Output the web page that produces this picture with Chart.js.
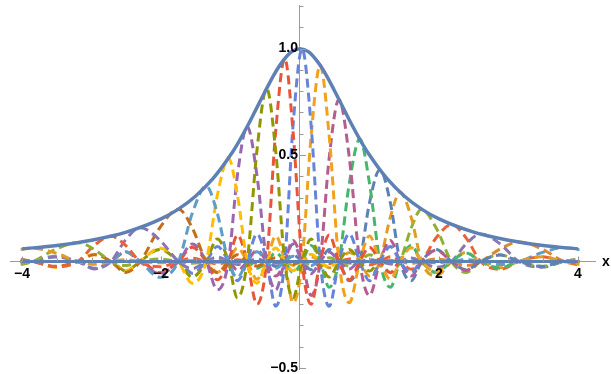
<!DOCTYPE html>
<html>
<head>
<meta charset="utf-8">
<script src="https://cdn.jsdelivr.net/npm/chart.js@4.4.1/dist/chart.umd.min.js"></script>
<style>
  html, body { margin: 0; padding: 0; background: #fff; }
  #wrap { width: 611px; height: 374px; position: relative; }
</style>
</head>
<body>
<div id="wrap"><canvas id="plot"></canvas></div>
<script>
// ============================================================
// Envelope curve + dashed lobes sampled along it (Mathematica look)
// ============================================================

// Solid envelope
const envX = [-4, -3.5, -3, -2.5, -2, -1.75, -1.5, -1.25, -1, -0.875, -0.75, -0.625, -0.5, -0.375, -0.25, -0.125, 0,
              0.125, 0.25, 0.375, 0.5, 0.625, 0.75, 0.875, 1, 1.25, 1.5, 1.75, 2, 2.5, 3, 3.5, 4];
const envY = [0.059, 0.075, 0.10, 0.138, 0.20, 0.246, 0.308, 0.39, 0.50, 0.566, 0.64, 0.72, 0.80, 0.877, 0.94, 0.985, 1.0,
              0.985, 0.94, 0.877, 0.80, 0.72, 0.64, 0.566, 0.50, 0.39, 0.308, 0.246, 0.20, 0.138, 0.10, 0.075, 0.059];

// Lobe lanes: peak positions (even slots) and the half-way spots between them (odd slots)
const laneX = [-4.6, -4.22, -3.85, -3.52, -3.2, -2.96, -2.72, -2.51, -2.3, -2.02, -1.75, -1.55, -1.35, -1.19,
               -1.03, -0.9, -0.76, -0.62, -0.48, -0.35, -0.22, -0.1, 0.03, 0.16, 0.29, 0.42, 0.56, 0.71, 0.86,
               1.0, 1.15, 1.3, 1.44, 1.6, 1.75, 1.96, 2.18, 2.39, 2.6, 2.88, 3.15, 3.48, 3.8, 4.2, 4.6];

// Peak height of each dashed lobe (one per peak slot 2..42)
const peakY = [0.063, 0.089, 0.119, 0.159, 0.246, 0.354, 0.485, 0.634, 0.813, 0.954, 0.999,
               0.922, 0.761, 0.575, 0.431, 0.325, 0.246, 0.174, 0.129, 0.092, 0.065];

// Lobe shape relative to its peak, per lane step away from the peak
const lobe = [1, 0.64, 0, -0.21, 0, 0.13, 0, -0.09, 0, 0.07, 0, -0.055, 0];

const dashColors = ['#E19C24', '#8FB032', '#EB6235', '#8778B3', '#C56E1A', '#5D9EC7', '#FFBF00',
                    '#9A68AE', '#929600', '#E9553A', '#6685D9', '#F2A11C', '#B65C8E', '#47B66D',
                    '#5E81B5', '#E19C24', '#8FB032', '#EB6235', '#8778B3', '#E0892B', '#5D9EC7'];

const zeroX = [-4, 4];
const zeroY = [0, 0];

const xTicks = [-4, -2, 2, 4];
const yTicks = [-0.5, 0.5, 1.0];

const BLUE = '#5E81B5';
const AXIS = '#9A9A9A';
const LABEL_FONT = 'bold 14px "Liberation Sans", Arial, sans-serif';

const lobeSets = peakY.map((h, i) => {
  const c = 2 * i + 2;
  return {
    data: laneX.map((x, j) => {
      const k = Math.abs(j - c);
      return { x, y: k < lobe.length ? h * lobe[k] : 0 };
    }),
    borderColor: dashColors[i],
    borderWidth: 3,
    borderDash: [9, 5],
    showLine: true,
    pointRadius: 0,
    cubicInterpolationMode: 'monotone',
  };
});

const fmt = v => (v < 0 ? '\u2212' : '') + (Number.isInteger(v) && Math.abs(v) >= 2 ? Math.abs(v) : Math.abs(v).toFixed(1));

// clip the curves to x in [-4, 4], like the original plot range
const clipRange = {
  id: 'clipRange',
  beforeDatasetsDraw(chart) {
    const { ctx, scales: { x } } = chart;
    const l = x.getPixelForValue(-4), r = x.getPixelForValue(4);
    ctx.save();
    ctx.beginPath();
    ctx.rect(l - 1.5, 0, r - l + 3, chart.height);
    ctx.clip();
  },
  afterDatasetsDraw(chart) {
    chart.ctx.restore();
  },
};

// inward tick marks, tick labels on top of the curves, axis label
const axisMarks = {
  id: 'axisMarks',
  afterDraw(chart) {
    const { ctx, scales: { x, y } } = chart;
    const x0 = x.getPixelForValue(0), y0 = y.getPixelForValue(0);
    ctx.save();
    ctx.strokeStyle = AXIS;
    ctx.lineWidth = 1;
    ctx.beginPath();
    for (let i = -8; i <= 8; i++) {
      if (i === 0) continue;
      const px = Math.round(x.getPixelForValue(i / 2)) + 0.5;
      const len = i % 4 === 0 ? 5 : (i % 2 === 0 ? 4 : 3);
      ctx.moveTo(px, y0);
      ctx.lineTo(px, y0 - len);
    }
    for (let i = -5; i <= 12; i++) {
      if (i === 0) continue;
      const py = Math.round(y.getPixelForValue(i / 10)) + 0.5;
      const len = i % 5 === 0 ? 6 : 3.5;
      ctx.moveTo(x0, py);
      ctx.lineTo(x0 + len, py);
    }
    ctx.stroke();

    ctx.fillStyle = '#000';
    ctx.font = LABEL_FONT;
    ctx.textAlign = 'center';
    ctx.textBaseline = 'top';
    xTicks.forEach(v => ctx.fillText(fmt(v), x.getPixelForValue(v), y0 + 6));
    ctx.textAlign = 'right';
    ctx.textBaseline = 'middle';
    yTicks.forEach(v => ctx.fillText(fmt(v), x0 - 2, y.getPixelForValue(v)));
    ctx.textAlign = 'left';
    ctx.fillText('x', 602, y0 + 1);
    ctx.restore();
  },
};

new Chart(document.getElementById('plot'), {
  type: 'scatter',
  data: {
    datasets: [
      {
        data: zeroX.map((x, i) => ({ x, y: zeroY[i] })),
        borderColor: BLUE, borderWidth: 3, showLine: true, pointRadius: 0,
      },
      {
        data: envX.map((x, i) => ({ x, y: envY[i] })),
        borderColor: BLUE, borderWidth: 3.5, showLine: true, pointRadius: 0,
        cubicInterpolationMode: 'monotone',
      },
      ...lobeSets,
    ],
  },
  options: {
    responsive: true, maintainAspectRatio: false, animation: false,
    layout: { padding: { left: 10, right: 16, top: 5, bottom: 5 } },
    plugins: { legend: { display: false }, tooltip: { enabled: false } },
    scales: {
      x: {
        type: 'linear', min: -4.173, max: 4.245, position: { y: 0 },
        grid: { display: false, drawTicks: false },
        border: { display: true, color: AXIS, width: 1 },
        afterBuildTicks: s => { s.ticks = xTicks.map(v => ({ value: v })); },
        ticks: { display: false },
      },
      y: {
        type: 'linear', min: -0.505, max: 1.205, position: { x: 0 },
        grid: { display: false, drawTicks: false },
        border: { display: true, color: AXIS, width: 1 },
        afterBuildTicks: s => { s.ticks = yTicks.map(v => ({ value: v })); },
        ticks: { display: false },
      },
    },
  },
  plugins: [clipRange, axisMarks],
});
</script>
</body>
</html>
